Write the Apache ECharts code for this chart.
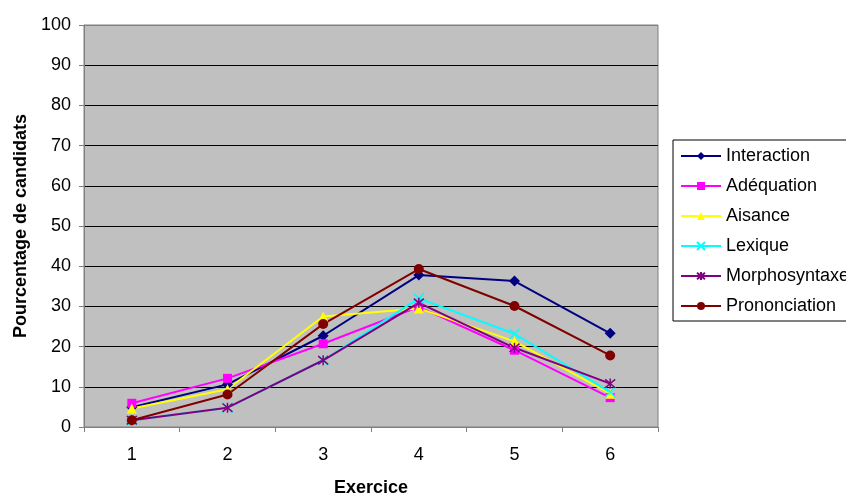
<!DOCTYPE html>
<html>
<head>
<meta charset="utf-8">
<script src="https://cdn.jsdelivr.net/npm/echarts@6/dist/echarts.min.js"></script>
<style>html,body{margin:0;padding:0;background:#fff;}#c{width:846px;height:502px;}</style>
</head>
<body>
<div id="c"></div>
<script>
const categories = ['1', '2', '3', '4', '5', '6'];
const seriesNames = ['Interaction', 'Adéquation', 'Aisance', 'Lexique', 'Morphosyntaxe', 'Prononciation'];
const interaction = [4.9, 10.6, 22.7, 37.8, 36.3, 23.3];
const adequation = [5.9, 12.1, 20.7, 29.9, 19.1, 7.3];
const aisance = [4.6, 9.4, 27.5, 29.5, 21.3, 8.3];
const lexique = [1.7, 4.8, 16.6, 32.0, 23.2, 8.7];
const morphosyntaxe = [1.7, 4.8, 16.6, 30.9, 19.7, 10.8];
const prononciation = [1.7, 8.1, 25.6, 39.3, 30.1, 17.8];
const yTicks = [0, 10, 20, 30, 40, 50, 60, 70, 80, 90, 100];

const FONT = 'Liberation Sans, Arial, sans-serif';
const values = [interaction, adequation, aisance, lexique, morphosyntaxe, prononciation];
const colors = ['#000080', '#FF00FF', '#FFFF00', '#00FFFF', '#800080', '#800000'];
const symbols = ['diamond', 'rect', 'triangle', 'path://M0,0L10,10M10,0L0,10', 'path://M0,0L10,10M10,0L0,10M5,-1L5,11', 'circle'];
const sizes = [11, 9, 10, 10, 10, 10];

const series = seriesNames.map((n, i) => {
  const isPath = symbols[i].startsWith('path');
  return {
    name: n,
    type: 'line',
    data: values[i],
    symbol: symbols[i],
    symbolSize: sizes[i],
    showAllSymbol: true,
    lineStyle: { color: colors[i], width: 2 },
    itemStyle: isPath ? { color: 'none', borderColor: colors[i], borderWidth: 1.5 } : { color: colors[i], borderColor: colors[i], borderWidth: 0 },
    emphasis: { disabled: true },
    animation: false
  };
});

const chart = echarts.init(document.getElementById('c'), null, { renderer: 'canvas' });
chart.setOption({
  animation: false,
  textStyle: { fontFamily: FONT },
  grid: { left: 84, top: 25, right: 188, bottom: 68, show: true, backgroundColor: '#C0C0C0', borderColor: '#808080', borderWidth: 1 },
  legend: {
    orient: 'vertical',
    left: 673, top: 140,
    data: seriesNames,
    borderColor: '#000', borderWidth: 1,
    padding: [6, 10, 5, 7],
    itemWidth: 40, itemHeight: 10, itemGap: 10,
    textStyle: { fontFamily: FONT, fontSize: 18, color: '#000', lineHeight: 20 }
  },
  xAxis: {
    type: 'category',
    data: categories,
    boundaryGap: true,
    name: 'Exercice',
    nameLocation: 'middle',
    nameGap: 52,
    nameTextStyle: { fontFamily: FONT, fontSize: 18, fontWeight: 'bold', color: '#000' },
    axisLine: { lineStyle: { color: '#808080', width: 1 } },
    axisTick: { show: true, length: 5, lineStyle: { color: '#808080' } },
    axisLabel: { fontFamily: FONT, fontSize: 18, color: '#000', margin: 19 },
    splitLine: { show: false }
  },
  yAxis: {
    type: 'value',
    min: yTicks[0], max: yTicks[yTicks.length - 1], interval: 10,
    name: 'Pourcentage de candidats',
    nameLocation: 'middle',
    nameGap: 54,
    nameRotate: 90,
    nameTextStyle: { fontFamily: FONT, fontSize: 18, fontWeight: 'bold', color: '#000' },
    axisLine: { show: true, lineStyle: { color: '#808080', width: 1 } },
    axisTick: { show: true, length: 5, lineStyle: { color: '#808080' } },
    axisLabel: { fontFamily: FONT, fontSize: 18, color: '#000', margin: 13 },
    splitLine: { show: true, lineStyle: { color: ['#808080', '#000', '#000', '#000', '#000', '#000', '#000', '#000', '#000', '#000', '#808080'], width: 1 } }
  },
  series: series
});
</script>
</body>
</html>
